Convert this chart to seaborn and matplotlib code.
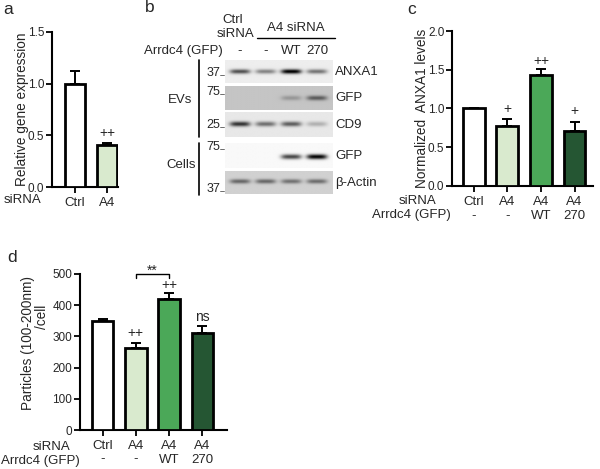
import matplotlib
matplotlib.use("Agg")
import matplotlib.pyplot as plt
import numpy as np
import pandas as pd
import seaborn as sns

# panel a: qPCR
a_groups = ["Ctrl", "A4"]
a_values = [1.0, 0.41]
a_errors = [0.12, 0.012]
a_marks = ["", "++"]
a_mark_y = [0, 0.52]

# panel b: western blot band intensities (0 = none, 1 = saturated)
blot_lanes = ["-", "-", "WT", "270"]
blot_rows = ["ANXA1", "GFP", "CD9", "GFP", "β-Actin"]
band_anxa1 = [0.62, 0.42, 0.95, 0.48]
band_gfp_ev = [0.0, 0.0, 0.18, 0.42]
band_cd9 = [0.72, 0.48, 0.55, 0.22]
band_gfp_cell = [0.0, 0.0, 0.7, 0.97]
band_actin = [0.42, 0.42, 0.38, 0.4]
mw_labels = ["37", "75", "25", "75", "37"]

# panels c, d share the four conditions
groups = ["Ctrl", "A4", "A4 WT", "A4 270"]
sirna_labels = ["Ctrl", "A4", "A4", "A4"]
arrdc4_labels = ["-", "-", "WT", "270"]

c_values = [1.0, 0.775, 1.435, 0.705]
c_errors = [0.0, 0.085, 0.07, 0.125]
c_marks = ["", "+", "++", "+"]
c_mark_y = [0, 0.99, 1.61, 0.97]

d_values = [350, 264, 420, 311]
d_errors = [7, 15, 18, 21]
d_marks = ["", "++", "++", "ns"]
d_mark_y = [0, 311, 465, 362]

bar_colors = ["#ffffff", "#d8efc9", "#3bb84d", "#1d5e30"]

W, H = 600, 469


def fx(px):
    return px / W


def fy(py):
    return 1 - py / H


def box(left, top, right, bottom):
    return [fx(left), fy(bottom), (right - left) / W, (bottom - top) / H]


def style_axes(ax):
    sns.despine(ax=ax)
    for side in ["left", "bottom"]:
        ax.spines[side].set_linewidth(1.5)
        ax.spines[side].set_color("black")
    ax.tick_params(axis="both", width=1.3, length=4, color="black", labelsize=8.5, pad=1.5)
    ax.tick_params(axis="x", labelsize=9.5, pad=3)
    ax.set_xlabel("")


def draw_bars(ax, labels, values, errors, colors, width):
    df = pd.DataFrame({"group": labels, "value": values})
    sns.barplot(data=df, x="group", y="value", hue="group", palette=colors,
                edgecolor="black", linewidth=2.0, width=width, legend=False,
                errorbar=None, ax=ax, zorder=3)
    ax.errorbar(np.arange(len(values)), values,
                yerr=[np.zeros(len(values)), errors], fmt="none",
                ecolor="black", elinewidth=1.4, capsize=3.5, capthick=1.4, zorder=2)


def blot_row(top, bottom, bands, background, band_y):
    ax = fig.add_axes(box(225, top, 333, bottom))
    xs = np.linspace(-0.58, 3.62, 220)
    ys = np.linspace(0, 1, 60)
    X, Y = np.meshgrid(xs, ys)
    img = np.full_like(X, background)
    for lane, level in enumerate(bands):
        img += level * np.exp(-((X - lane) / 0.4) ** 4) * np.exp(-((Y - band_y) / 0.1) ** 2)
    ax.imshow(np.clip(img, 0, 1), cmap="gray_r", vmin=0, vmax=1,
              extent=(-0.58, 3.62, 1, 0), aspect="auto", interpolation="bilinear")
    ax.set_axis_off()
    return ax


sns.set_style("ticks")
plt.rcParams["font.family"] = ["Liberation Sans", "DejaVu Sans"]

fig = plt.figure(figsize=(6, 4.69), dpi=100)

# ---------------- panel a ----------------
ax_a = fig.add_axes(box(52, 32, 118, 187))
draw_bars(ax_a, a_groups, a_values, a_errors, bar_colors[:2], 0.63)
ax_a.set_xlim(-0.72, 1.34)
ax_a.set_ylim(0, 1.5)
ax_a.set_yticks([0, 0.5, 1.0, 1.5])
ax_a.set_yticklabels(["0.0", "0.5", "1.0", "1.5"])
ax_a.set_ylabel("Relative gene expression", fontsize=9.8, va="center")
ax_a.yaxis.set_label_coords((22 - 52) / 66, 0.5)
style_axes(ax_a)
for i, (m, y) in enumerate(zip(a_marks, a_mark_y)):
    if m:
        ax_a.text(i, y, m, ha="center", va="center", fontsize=10)
fig.text(fx(23), fy(200), "siRNA", ha="center", va="center", fontsize=9.5)
fig.text(fx(8), fy(9), "a", ha="center", va="center", fontsize=12.5)

# ---------------- panel b ----------------
blot_row(60, 83, band_anxa1, 0.07, 0.5)
blot_row(86, 110, band_gfp_ev, 0.23, 0.5)
blot_row(112, 137, band_cd9, 0.09, 0.48)
blot_row(143, 168, band_gfp_cell, 0.025, 0.55)
blot_row(171, 194, band_actin, 0.18, 0.45)

fig.text(fx(150), fy(8), "b", ha="center", va="center", fontsize=12.5)
fig.text(fx(233), fy(20), "Ctrl", ha="center", va="center", fontsize=9.5)
fig.text(fx(236), fy(34), "siRNA", ha="center", va="center", fontsize=9.5)
fig.text(fx(296), fy(28), "A4 siRNA", ha="center", va="center", fontsize=9.5)
fig.add_artist(plt.Line2D([fx(257), fx(335)], [fy(38), fy(38)], color="black", lw=1.0))
fig.text(fx(183), fy(51), "Arrdc4 (GFP)", ha="center", va="center", fontsize=9.5)
for i, lab in enumerate(blot_lanes):
    fig.text(fx(240 + 25.67 * i), fy(51), lab, ha="center", va="center", fontsize=9.5)

row_label_y = [72, 98, 125, 156, 183]
for lab, y in zip(blot_rows, row_label_y):
    fig.text(fx(335), fy(y), lab, ha="left", va="center", fontsize=9.5)

mw_y = [73, 92, 125, 147, 189]
for lab, y in zip(mw_labels, mw_y):
    fig.text(fx(220), fy(y), lab, ha="right", va="center", fontsize=9)
    fig.add_artist(plt.Line2D([fx(220), fx(224)], [fy(y + 2), fy(y + 2)], color="#555555", lw=0.6))

fig.add_artist(plt.Line2D([fx(199), fx(199)], [fy(60), fy(137)], color="black", lw=1.2))
fig.add_artist(plt.Line2D([fx(199), fx(199)], [fy(143), fy(195)], color="black", lw=1.2))
fig.text(fx(180), fy(100), "EVs", ha="center", va="center", fontsize=9.5)
fig.text(fx(181), fy(165), "Cells", ha="center", va="center", fontsize=9.5)

# ---------------- panel c ----------------
ax_c = fig.add_axes(box(452, 31, 593, 186))
draw_bars(ax_c, groups, c_values, c_errors, bar_colors, 0.65)
ax_c.set_xlim(-0.65, 3.55)
ax_c.set_ylim(0, 2.0)
ax_c.set_yticks([0, 0.5, 1.0, 1.5, 2.0])
ax_c.set_yticklabels(["0.0", "0.5", "1.0", "1.5", "2.0"])
ax_c.set_xticks(range(4))
ax_c.set_xticklabels([f"{s}\n{g}" for s, g in zip(sirna_labels, arrdc4_labels)], linespacing=1.3)
ax_c.set_ylabel("Normalized  ANXA1 levels", fontsize=9.8, va="center")
ax_c.yaxis.set_label_coords((422 - 452) / 141, 0.5)
style_axes(ax_c)
for i, (m, y) in enumerate(zip(c_marks, c_mark_y)):
    if m:
        ax_c.text(i, y, m, ha="center", va="center", fontsize=10)
fig.text(fx(418), fy(201), "siRNA", ha="center", va="center", fontsize=9.5)
fig.text(fx(411), fy(215), "Arrdc4 (GFP)", ha="center", va="center", fontsize=9.5)
fig.text(fx(412), fy(10), "c", ha="center", va="center", fontsize=12.5)

# ---------------- panel d ----------------
ax_d = fig.add_axes(box(80, 274, 227, 430))
draw_bars(ax_d, groups, d_values, d_errors, bar_colors, 0.65)
ax_d.set_xlim(-0.68, 3.74)
ax_d.set_ylim(0, 500)
ax_d.set_yticks([0, 100, 200, 300, 400, 500])
ax_d.set_xticks(range(4))
ax_d.set_xticklabels([f"{s}\n{g}" for s, g in zip(sirna_labels, arrdc4_labels)], linespacing=1.2)
ax_d.set_ylabel("")
style_axes(ax_d)
for i, (m, y) in enumerate(zip(d_marks, d_mark_y)):
    if m:
        ax_d.text(i, y, m, ha="center", va="center", fontsize=10)
ax_d.plot([1, 1, 2, 2], [487, 500, 500, 487], color="black", lw=1.0, clip_on=False)
ax_d.text(1.5, 497, "**", ha="center", va="baseline", fontsize=10, clip_on=False)
fig.text(fx(28), fy(343), "Particles (100-200nm)", rotation=90, ha="center", va="center", fontsize=9.8)
fig.text(fx(42), fy(317), "/cell", rotation=90, ha="center", va="center", fontsize=9.8)
fig.text(fx(52), fy(447), "siRNA", ha="center", va="center", fontsize=9.5)
fig.text(fx(40), fy(461), "Arrdc4 (GFP)", ha="center", va="center", fontsize=9.5)
fig.text(fx(12), fy(258), "d", ha="center", va="center", fontsize=12.5)

fig.savefig("out.png", dpi=100)
